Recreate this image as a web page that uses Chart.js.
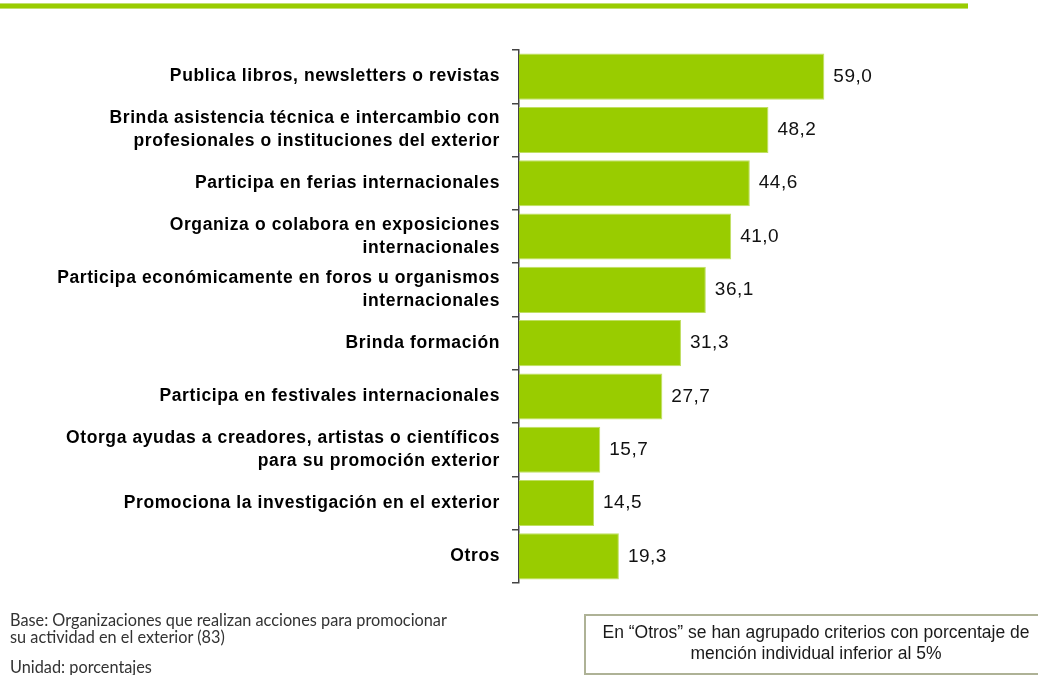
<!DOCTYPE html>
<html>
<head>
<meta charset="utf-8">
<script src="https://cdn.jsdelivr.net/npm/chart.js@4.4.1/dist/chart.umd.min.js"></script>
<style>
  html, body { margin: 0; padding: 0; background: #fff; overflow: hidden; }
  #wrap { position: relative; width: 1038px; height: 675px; overflow: hidden; }
  #chart { position: absolute; left: 0; top: 0; }
  .note { position: absolute; font-family: Lato, "Noto Sans", sans-serif; font-size: 16.3px; color: #333; line-height: 17px; white-space: nowrap; }
  #box { position: absolute; left: 584px; top: 614px; width: 460px; height: 51px;
         border: 2px solid #aeb296; box-sizing: content-box;
         font-family: "Liberation Sans", Arial, sans-serif; font-size: 17.5px; color: #1a1a1a;
         text-align: center; line-height: 21px; padding-top: 6px; white-space: nowrap; }
</style>
</head>
<body>
<div id="wrap">
  <canvas id="chart" width="1038" height="675"></canvas>
  <div class="note" style="left:10px; top:611px;">Base: Organizaciones que realizan acciones para promocionar<br>su actividad en el exterior (83)</div>
  <div class="note" style="left:10px; top:658px;">Unidad: porcentajes</div>
  <div id="box">En “Otros” se han agrupado criterios con porcentaje de<br>mención individual inferior al 5%</div>
</div>
<script>
// Activities carried out abroad (percent of organisations)
const categories = [
  ["Publica libros, newsletters o revistas"],
  ["Brinda asistencia técnica e intercambio con", "profesionales o instituciones del exterior"],
  ["Participa en ferias internacionales"],
  ["Organiza o colabora en exposiciones", "internacionales"],
  ["Participa económicamente en foros u organismos", "internacionales"],
  ["Brinda formación"],
  ["Participa en festivales internacionales"],
  ["Otorga ayudas a creadores, artistas o científicos", "para su promoción exterior"],
  ["Promociona la investigación en el exterior"],
  ["Otros"]
];
const values = [59.0, 48.2, 44.6, 41.0, 36.1, 31.3, 27.7, 15.7, 14.5, 19.3];

const fmt = v => v.toFixed(1).replace('.', ',');

// value labels at the end of each bar
const valueLabels = {
  id: 'valueLabels',
  afterDatasetsDraw(chart) {
    const ctx = chart.ctx;
    const meta = chart.getDatasetMeta(0);
    ctx.save();
    ctx.letterSpacing = '0.5px';
    ctx.font = '19px "Liberation Sans", Arial, sans-serif';
    ctx.fillStyle = '#111';
    ctx.textAlign = 'left';
    ctx.textBaseline = 'middle';
    meta.data.forEach((bar, i) => {
      ctx.fillText(fmt(values[i]), bar.x + 9, bar.y);
    });
    ctx.restore();
  },
  afterDraw(chart) { chart.ctx.letterSpacing = '0px'; }
};

// green rule across the top of the page; also sets the label tracking
const topRule = {
  id: 'topRule',
  beforeDraw(chart) {
    const ctx = chart.ctx;
    ctx.save();
    ctx.fillStyle = '#c4e070';
    ctx.fillRect(0, 3, 968, 6);
    ctx.fillStyle = '#99cc00';
    ctx.fillRect(0, 4, 968, 4);
    ctx.restore();
    ctx.letterSpacing = '0.6px';
  }
};

new Chart(document.getElementById('chart'), {
  type: 'bar',
  data: {
    labels: categories,
    datasets: [{
      data: values,
      backgroundColor: '#99cc00',
      borderColor: '#c0df63',
      borderWidth: 1,
      categoryPercentage: 1.0,
      barPercentage: 0.865
    }]
  },
  options: {
    indexAxis: 'y',
    responsive: false,
    animation: false,
    layout: { padding: { left: 0, top: 50, right: 105, bottom: 92 } },
    plugins: { legend: { display: false }, tooltip: { enabled: false } },
    scales: {
      x: { display: false, min: 0, max: 80 },
      y: {
        afterFit(scale) { scale.width = 519; },
        grid: { drawOnChartArea: false, tickLength: 7, color: '#444', lineWidth: 1.5, offset: true },
        border: { display: true, color: '#444', width: 1.5 },
        ticks: {
          color: '#000',
          padding: 12,
          font: { family: '"Liberation Sans", Arial, sans-serif', size: 17.5, weight: 'bold', lineHeight: 1.31 }
        }
      }
    }
  },
  plugins: [valueLabels, topRule]
});
</script>
</body>
</html>
